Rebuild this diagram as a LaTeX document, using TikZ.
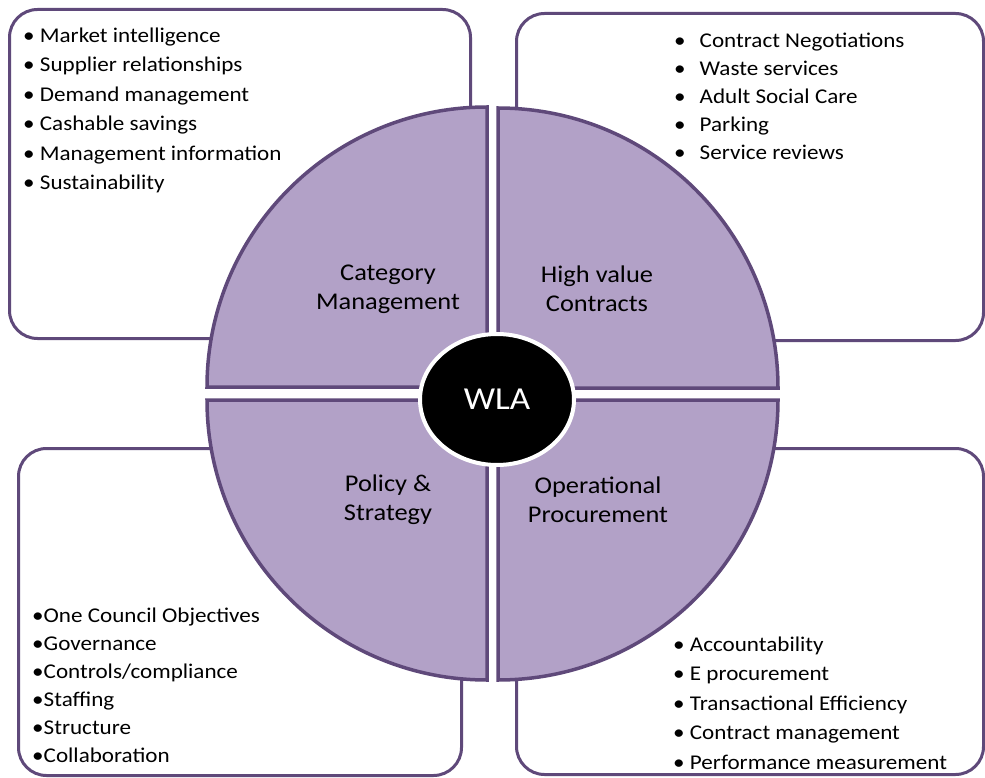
\documentclass[tikz,border=0pt]{standalone}
\usepackage{fontspec}
\setmainfont{Carlito}[FakeStretch=1.1]
\usepackage{xcolor}
\usepackage{tikz}
\usetikzlibrary{positioning,shapes.geometric}
\definecolor{darkpurple}{RGB}{95,73,122}
\definecolor{lilac}{RGB}{178,161,199}

\begin{document}
\begin{tikzpicture}[x=1pt,y=1pt,
infobox/.style={draw=darkpurple,line width=3pt,rounded corners=28pt,fill=white,inner sep=0pt},
quarter/.style={draw=darkpurple,line width=3.5pt,fill=lilac},
itemlist/.style={anchor=north west,align=left,inner sep=0pt},
quartertitle/.style={align=center,inner sep=0pt,font=\fontsize{24}{29}\selectfont},
hub/.style={ellipse,fill=black,draw=white,line width=4pt,minimum width=154pt,minimum height=131pt,text=white,font=\fontsize{32}{32}\selectfont}
]
\useasboundingbox (0,0) rectangle (985,-778);

\node[infobox,minimum width=461pt,minimum height=329pt] (catbox) at (240,-174) {};
\node[infobox,minimum width=467pt,minimum height=327pt] (hvbox) at (750,-177) {};
\node[infobox,minimum width=443pt,minimum height=327pt] (polbox) at (240,-612) {};
\node[infobox,minimum width=467pt,minimum height=326pt] (opbox) at (750,-611.5) {};

% four quarters of the wheel
\draw[quarter] (487,-387) -- ++(-280,0) arc[start angle=180,end angle=90,radius=280pt] -- cycle;
\draw[quarter] (498,-388) -- ++(0,280) arc[start angle=90,end angle=0,radius=280pt] -- cycle;
\draw[quarter] (487,-400) -- ++(0,-280) arc[start angle=270,end angle=180,radius=280pt] -- cycle;
\draw[quarter] (498,-400) -- ++(280,0) arc[start angle=0,end angle=-90,radius=280pt] -- cycle;

\node[quartertitle] (cattitle) at (388,-289) {Category\\Management};
\node[quartertitle] (hvtitle) at (597,-289) {High value\\Contracts};
\node[quartertitle] (poltitle) at (388,-500) {Policy \&\\Strategy};
\node[quartertitle] (optitle) at (598,-500) {Operational\\Procurement};

\node[hub] (wla) at (497,-399.5) {WLA};

\node[itemlist,font=\fontsize{21}{29.5}\selectfont] (catlist) at (23,-27.3)
  {\textbullet\ Market intelligence\\\textbullet\ Supplier relationships\\\textbullet\ Demand management\\
   \textbullet\ Cashable savings\\\textbullet\ Management information\\\textbullet\ Sustainability};
\node[itemlist,font=\fontsize{21}{28.2}\selectfont] (hvlist) at (674,-32.3)
  {\textbullet\hspace{14pt}Contract Negotiations\\\textbullet\hspace{14pt}Waste services\\
   \textbullet\hspace{14pt}Adult Social Care\\\textbullet\hspace{14pt}Parking\\\textbullet\hspace{14pt}Service reviews};
\node[itemlist,font=\fontsize{21}{28}\selectfont] (pollist) at (32,-607.3)
  {\textbullet One Council Objectives\\\textbullet Governance\\\textbullet Controls/compliance\\
   \textbullet Staffing\\\textbullet Structure\\\textbullet Collaboration};
\node[itemlist,font=\fontsize{21}{29.5}\selectfont] (oplist) at (673,-636.3)
  {\textbullet\ Accountability\\\textbullet\ E procurement\\\textbullet\ Transactional Efficiency\\
   \textbullet\ Contract management\\\textbullet\ Performance measurement};
\end{tikzpicture}
\end{document}
